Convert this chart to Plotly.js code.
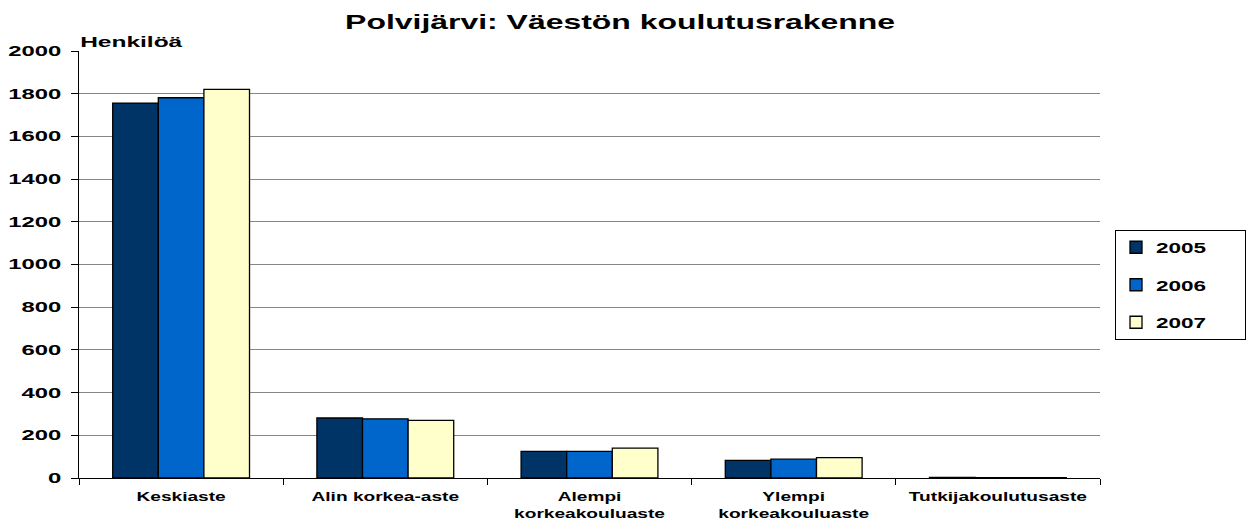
<!DOCTYPE html>
<html><head><meta charset="utf-8">
<script src="https://cdn.plot.ly/plotly-3.0.1.min.js"></script>
<style>html,body{margin:0;padding:0;background:#fff}#chart{width:1246px;height:522px}</style>
</head><body><div id="chart"></div>
<script>
const categories = ["Keskiaste", "Alin korkea-aste", "Alempi<br>korkeakouluaste", "Ylempi<br>korkeakouluaste", "Tutkijakoulutusaste"];
const years = ["2005", "2006", "2007"];
const v2005 = [1756, 281, 125, 83, 3];
const v2006 = [1781, 277, 125, 88, 2];
const v2007 = [1820, 270, 140, 95, 2];
const colors = ["#003366", "#0066CC", "#FFFFCC"];
const series = [v2005, v2006, v2007];

const traces = series.map((vals, i) => ({
  type: "bar", name: "<b>" + years[i] + "</b>", legendgroup: years[i], x: categories, y: vals,
  marker: {color: colors[i], line: {color: "#000", width: 1.3}}
}));

const layout = {
  width: 1246, height: 522,
  margin: {l: 79, r: 146, t: 50.5, b: 43.5},
  paper_bgcolor: "#fff", plot_bgcolor: "#fff",
  font: {family: "Liberation Sans, Arial, sans-serif", color: "#000"},
  title: {text: "<b>Polvijärvi: Väestön koulutusrakenne</b>", font: {size: 21}, x: 0.53, xref: "paper",
          y: 0.972, yref: "container", xanchor: "center", yanchor: "top"},
  bargap: 0.33, bargroupgap: 0,
  xaxis: {type: "category", tickson: "boundaries", ticks: "outside", ticklen: 6, tickcolor: "#000", ticklabelstandoff: 6,
          showline: true, linecolor: "#000", linewidth: 1, showgrid: false,
          tickfont: {size: 13}, tickprefix: "<b>", ticksuffix: "</b>"},
  yaxis: {range: [0, 2000], dtick: 200, ticks: "outside", ticklen: 7, tickcolor: "#000", ticklabelstandoff: 7,
          showline: true, linecolor: "#000", linewidth: 1, showgrid: true, gridcolor: "#868686", gridwidth: 1,
          zeroline: false, tickfont: {size: 14}, tickprefix: "<b>", ticksuffix: "</b>"},
  legend: {x: 1.0147, xanchor: "left", y: 0.452, yanchor: "middle", bordercolor: "#000", borderwidth: 1,
           font: {size: 15}, itemwidth: 30, tracegroupgap: 15},
  annotations: [{text: "<b>Henkilöä</b>", xref: "paper", yref: "paper", x: 0, y: 1, xanchor: "left", yanchor: "bottom",
                 showarrow: false, font: {size: 14}, yshift: -1, xshift: 21}]
};

function stretch(sel, k, target) {
  document.querySelectorAll(sel).forEach(t => {
    const lines = t.querySelectorAll("tspan.line");
    const els = lines.length ? Array.from(lines) : [t];
    els.forEach(el => {
      const L = el.getComputedTextLength();
      if (!L) return;
      const w = target ? target : L * k;
      el.setAttribute("textLength", w.toFixed(1));
      el.setAttribute("lengthAdjust", "spacingAndGlyphs");
    });
  });
}

Plotly.newPlot("chart", traces, layout, {displayModeBar: false}).then(() => {
  stretch(".ytick text", 1.7);
  stretch(".xtick text", 1.47);
  stretch(".gtitle", 0, 550);
  stretch(".legendtext", 1.5);
  stretch(".annotation-text", 1.75);
  const lg = document.querySelector("g.legend");
  if (lg) {
    lg.querySelectorAll("[clip-path]").forEach(e => e.removeAttribute("clip-path"));
    const bg = lg.querySelector("rect.bg");
    if (bg) bg.setAttribute("width", "129.5");
  }
});
</script></body></html>
